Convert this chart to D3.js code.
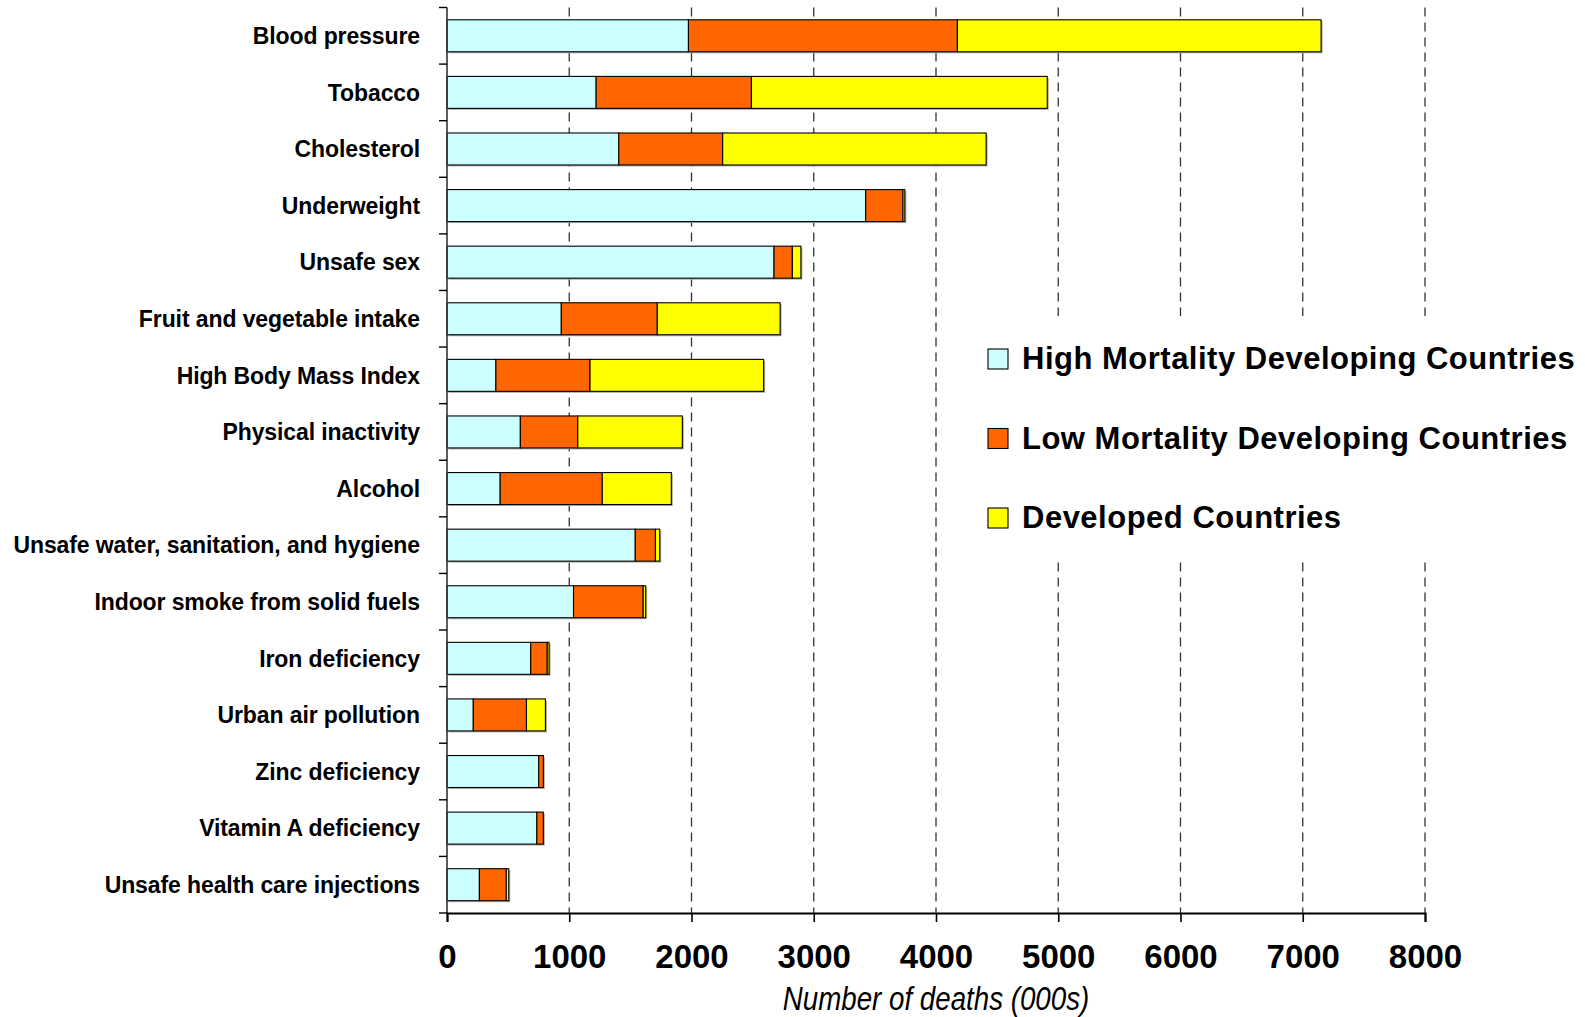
<!DOCTYPE html>
<html>
<head>
<meta charset="utf-8">
<script src="https://cdn.jsdelivr.net/npm/d3@7"></script>
<style>
  html, body { margin: 0; padding: 0; background: #fff; }
  svg { display: block; }
</style>
</head>
<body>
<svg id="chart" width="1585" height="1017"></svg>
<script>
const categories = [
  "Blood pressure", "Tobacco", "Cholesterol", "Underweight", "Unsafe sex",
  "Fruit and vegetable intake", "High Body Mass Index", "Physical inactivity",
  "Alcohol", "Unsafe water, sanitation, and hygiene", "Indoor smoke from solid fuels",
  "Iron deficiency", "Urban air pollution", "Zinc deficiency",
  "Vitamin A deficiency", "Unsafe health care injections"
];
const seriesNames = [
  "High Mortality Developing Countries",
  "Low Mortality Developing Countries",
  "Developed Countries"
];
const highMortality = [1975, 1220, 1405, 3425, 2675, 935, 400, 600, 435, 1540, 1035, 685, 215, 750, 735, 265];
const lowMortality  = [2200, 1270, 850, 305, 150, 785, 770, 470, 835, 165, 570, 135, 435, 38, 53, 220];
const developed     = [2975, 2420, 2155, 15, 70, 1005, 1420, 855, 565, 35, 20, 15, 155, 0, 0, 20];
const xTicks = [0, 1000, 2000, 3000, 4000, 5000, 6000, 7000, 8000];
const axisTitle = "Number of deaths (000s)";
const colors = ["#CCFFFF", "#FF6600", "#FFFF00"];

const svg = d3.select("#chart");
const FONT = "'Liberation Sans', Arial, Helvetica, sans-serif";

const x = d3.scaleLinear().domain([0, 8000]).range([447, 1425]);
const y = d3.scaleBand().domain(categories).range([7.5, 913]).paddingInner(0.435).paddingOuter(0.2175);

const stackData = categories.map((c, i) => ({ cat: c, s0: highMortality[i], s1: lowMortality[i], s2: developed[i] }));
const series = d3.stack().keys(["s0", "s1", "s2"])(stackData);

// gridlines
svg.append("g").selectAll("line").data(xTicks.filter(d => d > 0)).join("line")
  .attr("x1", d => x(d)).attr("x2", d => x(d))
  .attr("y1", y.range()[0]).attr("y2", y.range()[1])
  .attr("stroke", "#333").attr("stroke-width", 1.3)
  .attr("stroke-dasharray", "9,6");

// bar shadows
svg.append("g").selectAll("rect").data(stackData).join("rect")
  .attr("x", x(0) + 1.5)
  .attr("y", d => y(d.cat) + 1.5)
  .attr("width", d => x(d.s0 + d.s1 + d.s2) - x(0))
  .attr("height", y.bandwidth())
  .attr("fill", "#aaa");

// bars
svg.append("g").selectAll("g").data(series).join("g")
  .attr("fill", (d, i) => colors[i])
  .selectAll("rect").data(d => d.filter(p => p[1] - p[0] > 0)).join("rect")
  .attr("x", d => x(d[0]))
  .attr("y", d => y(d.data.cat))
  .attr("width", d => x(d[1]) - x(d[0]))
  .attr("height", y.bandwidth())
  .attr("stroke", "#000").attr("stroke-width", 1.1);

// y axis
const yAxisG = svg.append("g");
yAxisG.append("line")
  .attr("x1", x(0)).attr("x2", x(0))
  .attr("y1", y.range()[0]).attr("y2", y.range()[1])
  .attr("stroke", "#333").attr("stroke-width", 1.6);
yAxisG.selectAll("line.tick").data(d3.range(categories.length + 1)).join("line")
  .attr("class", "tick")
  .attr("x1", x(0) - 8).attr("x2", x(0))
  .attr("y1", i => y.range()[0] + i * y.step())
  .attr("y2", i => y.range()[0] + i * y.step())
  .attr("stroke", "#000").attr("stroke-width", 1.4);
yAxisG.selectAll("text").data(categories).join("text")
  .attr("x", 420)
  .attr("y", d => y(d) + y.bandwidth() / 2)
  .attr("dy", "0.36em")
  .attr("text-anchor", "end")
  .attr("font-family", FONT).attr("font-weight", "bold")
  .attr("font-size", 23).attr("letter-spacing", "-0.1px")
  .attr("fill", "#000")
  .text(d => d);

// x axis
const xAxis = d3.axisBottom(x).tickValues(xTicks).tickSize(9).tickPadding(22.5).tickFormat(d => d);
const xg = svg.append("g").attr("transform", `translate(0,${y.range()[1]})`).call(xAxis);
xg.select(".domain").attr("stroke", "#000").attr("stroke-width", 2);
xg.selectAll(".tick line").attr("stroke", "#000").attr("stroke-width", 1.6);
xg.selectAll(".tick text")
  .attr("font-family", FONT).attr("font-weight", "bold")
  .attr("font-size", 33)
  .attr("fill", "#000");

// axis title (condensed italic)
svg.append("text")
  .attr("transform", `translate(${(x.range()[0] + x.range()[1]) / 2},1010) scale(0.84,1)`)
  .attr("text-anchor", "middle")
  .attr("font-family", FONT).attr("font-style", "italic")
  .attr("font-size", 33)
  .attr("fill", "#000")
  .text(axisTitle);

// legend
const lg = svg.append("g");
lg.append("rect").attr("x", 968).attr("y", 316).attr("width", 617).attr("height", 243).attr("fill", "#fff");
const legendBaselines = [369, 448.5, 528];
seriesNames.forEach((name, i) => {
  lg.append("rect")
    .attr("x", 988).attr("y", legendBaselines[i] - 20)
    .attr("width", 20).attr("height", 20)
    .attr("fill", colors[i]).attr("stroke", "#000").attr("stroke-width", 1.1);
  lg.append("text")
    .attr("x", 1022).attr("y", legendBaselines[i])
    .attr("font-family", FONT).attr("font-weight", "bold")
    .attr("font-size", 31).attr("letter-spacing", "0.5px")
    .attr("fill", "#000")
    .text(name);
});
</script>
</body>
</html>
